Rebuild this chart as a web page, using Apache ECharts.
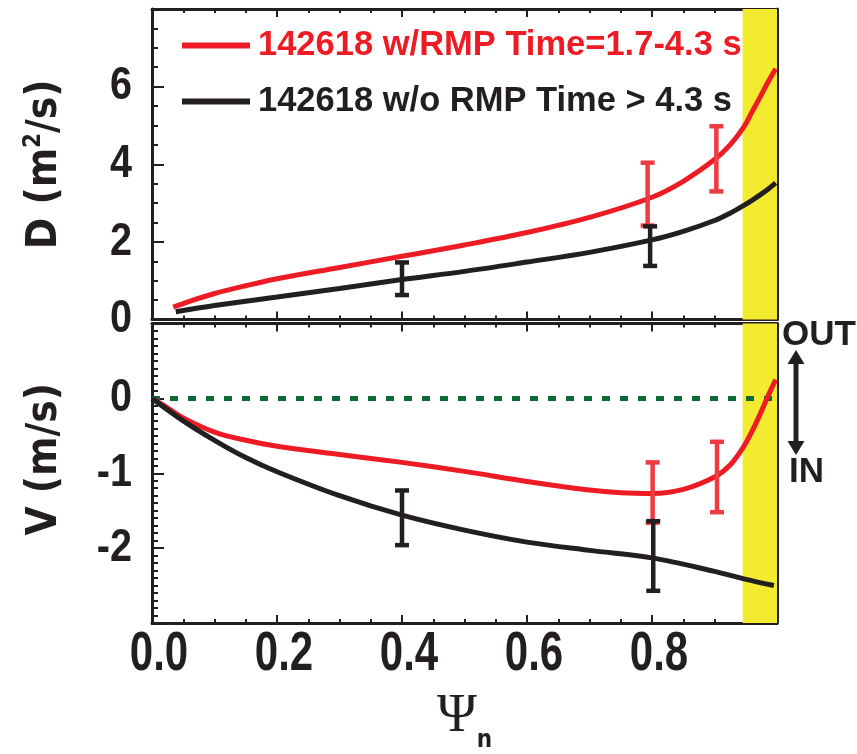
<!DOCTYPE html>
<html>
<head>
<meta charset="utf-8">
<script src="https://cdn.jsdelivr.net/npm/echarts@6/dist/echarts.min.js"></script>
<style>
  html, body { margin: 0; padding: 0; background: #fff; }
  #chart { width: 857px; height: 754px; }
</style>
</head>
<body>
<div id="chart"></div>
<script>
// ---- Diffusivity D (m^2/s) profiles ----
const psiDRed = [0.034, 0.06, 0.10, 0.15, 0.20, 0.30, 0.40, 0.50, 0.60, 0.70, 0.80, 0.85, 0.90, 0.925, 0.947, 0.96, 0.973, 0.985, 0.998];
const dRed    = [0.32, 0.47, 0.67, 0.87, 1.05, 1.34, 1.63, 1.92, 2.24, 2.63, 3.15, 3.56, 4.12, 4.50, 4.96, 5.35, 5.73, 6.10, 6.46];
const psiDBlk = [0.038, 0.10, 0.20, 0.30, 0.40, 0.50, 0.60, 0.70, 0.80, 0.85, 0.90, 0.925, 0.947, 0.96, 0.973, 0.985, 0.998];
const dBlk    = [0.20, 0.36, 0.58, 0.80, 1.03, 1.24, 1.48, 1.73, 2.05, 2.27, 2.55, 2.74, 2.94, 3.07, 3.21, 3.35, 3.52];

// ---- Convection velocity V (m/s) profiles ----
const psiVRed = [0.0, 0.02, 0.05, 0.10, 0.15, 0.20, 0.30, 0.40, 0.50, 0.60, 0.70, 0.75, 0.80, 0.85, 0.90, 0.925, 0.947, 0.96, 0.973, 0.985, 0.998];
const vRed    = [0.0, -0.10, -0.26, -0.45, -0.56, -0.64, -0.75, -0.855, -0.975, -1.11, -1.225, -1.26, -1.27, -1.215, -1.05, -0.89, -0.64, -0.44, -0.21, 0.02, 0.25];
const psiVBlk = [0.0, 0.05, 0.10, 0.15, 0.20, 0.30, 0.40, 0.50, 0.60, 0.70, 0.80, 0.90, 0.947, 0.995];
const vBlk    = [0.0, -0.30, -0.56, -0.79, -0.98, -1.30, -1.56, -1.76, -1.92, -2.03, -2.13, -2.31, -2.41, -2.50];

// ---- Error bars: [psi, low, high] ----
const errDRed = [[0.793, 2.42, 4.04], [0.903, 3.30, 4.98]];
const errDBlk = [[0.400, 0.63, 1.47], [0.797, 1.38, 2.40]];
const errVRed = [[0.801, -1.66, -0.855], [0.904, -1.52, -0.58]];
const errVBlk = [[0.400, -1.96, -1.23], [0.802, -2.57, -1.64]];

// ---- Shaded edge region and zero reference ----
const edgeBand = [0.945, 1.0];
const zeroLine = [[0, 0], [1, 0]];

// ---- Axis tick labels ----
const xTicks = [0.0, 0.2, 0.4, 0.6, 0.8];
const dTicks = [0, 2, 4, 6];
const vTicks = [-2, -1, 0];

const RED_NAME = '142618 w/RMP Time=1.7-4.3 s';
const BLK_NAME = '142618 w/o RMP Time > 4.3 s';

const RED = '#ed1c24';
const RED_ERR = '#ef3b42';
const BLK = '#231f20';
const AXIS = '#231f20';
const SANS = "'Liberation Sans',Arimo,Arial,sans-serif";
const NARROW = "'DejaVu Sans Condensed','Liberation Sans Narrow','Arial Narrow',sans-serif";

const zip = (xs, ys) => xs.map((x, i) => [x, ys[i]]);

function frameAxis(extra) {
  return Object.assign({
    type: 'value',
    axisLine: { show: true, onZero: false, lineStyle: { color: AXIS, width: 3 } },
    axisTick: { show: true, inside: true, length: 8, lineStyle: { color: AXIS, width: 2 } },
    minorTick: { show: true, length: 4, lineStyle: { color: AXIS, width: 2 } },
    splitLine: { show: false },
    minorSplitLine: { show: false },
    axisLabel: { show: false }
  }, extra);
}

const xBase = { min: 0, max: 1, interval: 0.2 };
const xMinor = { show: true, splitNumber: 4, length: 4, lineStyle: { color: AXIS, width: 2 } };

function errorBars(data, color, xi, yi) {
  return {
    type: 'custom',
    name: 'spread',
    xAxisIndex: xi,
    yAxisIndex: yi,
    data: data,
    z: 4,
    renderItem: function (params, api) {
      const p1 = api.coord([api.value(0), api.value(1)]);
      const p2 = api.coord([api.value(0), api.value(2)]);
      const w = 7;
      const style = { stroke: color, lineWidth: 4.5 };
      return {
        type: 'group',
        children: [
          { type: 'line', shape: { x1: p1[0], y1: p1[1], x2: p2[0], y2: p2[1] }, style: style },
          { type: 'line', shape: { x1: p1[0] - w, y1: p1[1], x2: p1[0] + w, y2: p1[1] }, style: style },
          { type: 'line', shape: { x1: p2[0] - w, y1: p2[1], x2: p2[0] + w, y2: p2[1] }, style: style }
        ]
      };
    }
  };
}

const band = {
  silent: true,
  itemStyle: { color: '#f3eb2f' },
  data: [[{ xAxis: edgeBand[0] }, { xAxis: edgeBand[1] }]]
};

function curve(name, data, color, xi, yi, withBand) {
  const s = {
    type: 'line',
    name: name,
    xAxisIndex: xi,
    yAxisIndex: yi,
    data: data,
    smooth: 0.35,
    showSymbol: false,
    symbol: 'none',
    lineStyle: { color: color, width: 5 },
    itemStyle: { color: color },
    z: 3
  };
  if (withBand) s.markArea = band;
  return s;
}

const option = {
  animation: false,
  backgroundColor: '#fff',
  grid: [
    { left: 152, top: 9, width: 625, height: 310.5 },
    { left: 152, top: 323.5, width: 625, height: 310 }
  ],
  legend: {
    left: 182,
    top: 28,
    padding: 0,
    orient: 'vertical',
    icon: 'rect',
    itemWidth: 68,
    itemHeight: 6,
    itemGap: 21,
    selectedMode: false,
    data: [
      { name: RED_NAME, textStyle: { color: RED } },
      { name: BLK_NAME, textStyle: { color: BLK } }
    ],
    textStyle: { fontFamily: SANS, fontWeight: 'bold', fontSize: 34.5, lineHeight: 34, padding: [0, 0, 0, 3] }
  },
  xAxis: [
    frameAxis(Object.assign({ gridIndex: 0, position: 'bottom', minorTick: xMinor }, xBase)),
    frameAxis(Object.assign({ gridIndex: 0, position: 'top', minorTick: xMinor }, xBase)),
    frameAxis(Object.assign({
      gridIndex: 1, position: 'bottom', minorTick: xMinor,
      name: '{psi|Ψ}{sub|n}',
      nameLocation: 'middle',
      nameGap: 58,
      nameTextStyle: {
        rich: {
          psi: { fontFamily: "'Liberation Serif','DejaVu Serif',serif", fontSize: 54, lineHeight: 54, color: BLK },
          sub: { fontFamily: NARROW, fontWeight: 'bold', fontSize: 24, color: BLK, padding: [48, 0, 0, 0] }
        }
      }
    }, xBase)),
    frameAxis(Object.assign({ gridIndex: 1, position: 'top', minorTick: xMinor }, xBase))
  ],
  yAxis: [
    frameAxis({
      gridIndex: 0, position: 'left', min: 0, max: 8, interval: 2,
      axisTick: { show: true, inside: true, length: 12, lineStyle: { color: AXIS, width: 2 } },
      minorTick: { show: true, splitNumber: 4, length: 6, lineStyle: { color: AXIS, width: 2 } },
      name: '{t|D (m}{sup|2}{t|/s)}',
      nameLocation: 'middle',
      nameRotate: 90,
      nameGap: 84,
      nameTextStyle: {
        rich: {
          t: { fontFamily: NARROW, fontWeight: 'bold', fontSize: 42, lineHeight: 46, color: BLK },
          sup: { fontFamily: NARROW, fontWeight: 'bold', fontSize: 24, lineHeight: 46, verticalAlign: 'top', color: BLK }
        }
      }
    }),
    frameAxis({
      gridIndex: 0, position: 'right', min: 0, max: 8, interval: 2,
      axisTick: { show: true, inside: true, length: 10, lineStyle: { color: AXIS, width: 2 } },
      minorTick: { show: true, splitNumber: 4, length: 6, lineStyle: { color: AXIS, width: 2 } }
    }),
    frameAxis({
      gridIndex: 1, position: 'left', min: -3, max: 1, interval: 1,
      axisTick: { show: true, inside: true, length: 12, lineStyle: { color: AXIS, width: 2 } },
      minorTick: { show: true, splitNumber: 10, length: 6, lineStyle: { color: AXIS, width: 2 } },
      name: 'V (m/s)',
      nameLocation: 'middle',
      nameRotate: 90,
      nameGap: 84,
      nameTextStyle: { fontFamily: NARROW, fontWeight: 'bold', fontSize: 42, lineHeight: 46, color: BLK, padding: [0, 0, 0, 28] }
    }),
    frameAxis({
      gridIndex: 1, position: 'right', min: -3, max: 1, interval: 1,
      axisTick: { show: true, inside: true, length: 9, lineStyle: { color: AXIS, width: 2 } },
      minorTick: { show: true, splitNumber: 10, length: 6, lineStyle: { color: AXIS, width: 2 } }
    })
  ],
  series: [
    curve(RED_NAME, zip(psiDRed, dRed), RED, 0, 0, true),
    curve(BLK_NAME, zip(psiDBlk, dBlk), BLK, 0, 0, false),
    {
      type: 'line', name: 'zero', xAxisIndex: 2, yAxisIndex: 2, data: zeroLine,
      showSymbol: false, symbol: 'none', z: 2,
      lineStyle: { color: '#0f6a3a', width: 5, type: [8, 10] },
      markArea: band
    },
    curve(RED_NAME, zip(psiVRed, vRed), RED, 2, 2, false),
    curve(BLK_NAME, zip(psiVBlk, vBlk), BLK, 2, 2, false),
    errorBars(errDRed, RED_ERR, 0, 0),
    errorBars(errDBlk, BLK, 0, 0),
    errorBars(errVRed, RED_ERR, 2, 2),
    errorBars(errVBlk, BLK, 2, 2)
  ]
};

const chart = echarts.init(document.getElementById('chart'), null, { renderer: 'canvas' });
chart.setOption(option);

// Tick labels in a condensed bold face, placed through the axes' own scales.
function tickText(id, x, y, text, size, squeeze, align) {
  return {
    type: 'text', id: id, x: x, y: y, scaleX: squeeze, silent: true, z: 10,
    style: { text: text, font: 'bold ' + size + 'px ' + SANS, fill: BLK, align: align, verticalAlign: 'middle' }
  };
}

const graphics = [];
const vBottomPx = chart.convertToPixel({ yAxisIndex: 2 }, -3);
xTicks.forEach((t, i) => {
  const px = chart.convertToPixel({ xAxisIndex: 2 }, t);
  graphics.push(tickText('xt' + i, px + 7, vBottomPx + 32, t.toFixed(1), 56, 0.75, 'center'));
});
const leftPx = chart.convertToPixel({ xAxisIndex: 0 }, 0);
dTicks.forEach((t, i) => {
  const py = chart.convertToPixel({ yAxisIndex: 0 }, t);
  graphics.push(tickText('dt' + i, leftPx - 20, py, String(t), 46, 0.86, 'right'));
});
vTicks.forEach((t, i) => {
  const py = chart.convertToPixel({ yAxisIndex: 2 }, t);
  graphics.push(tickText('vt' + i, leftPx - 20, py, String(t), 46, 0.86, 'right'));
});

// Flux direction annotation beside the velocity panel
graphics.push(
  { type: 'text', id: 'out', left: 782, top: 318, style: { text: 'OUT', font: 'bold 35px ' + SANS, fill: BLK } },
  { type: 'text', id: 'in', left: 789, top: 455, style: { text: 'IN', font: 'bold 35px ' + SANS, fill: BLK } },
  {
    type: 'polygon', id: 'arrow',
    shape: {
      points: [[796, 350], [804.5, 364], [798.5, 364], [798.5, 441], [804.5, 441], [796, 455],
               [787.5, 441], [793.5, 441], [793.5, 364], [787.5, 364]]
    },
    style: { fill: BLK }
  }
);

chart.setOption({ graphic: graphics });
</script>
</body>
</html>
